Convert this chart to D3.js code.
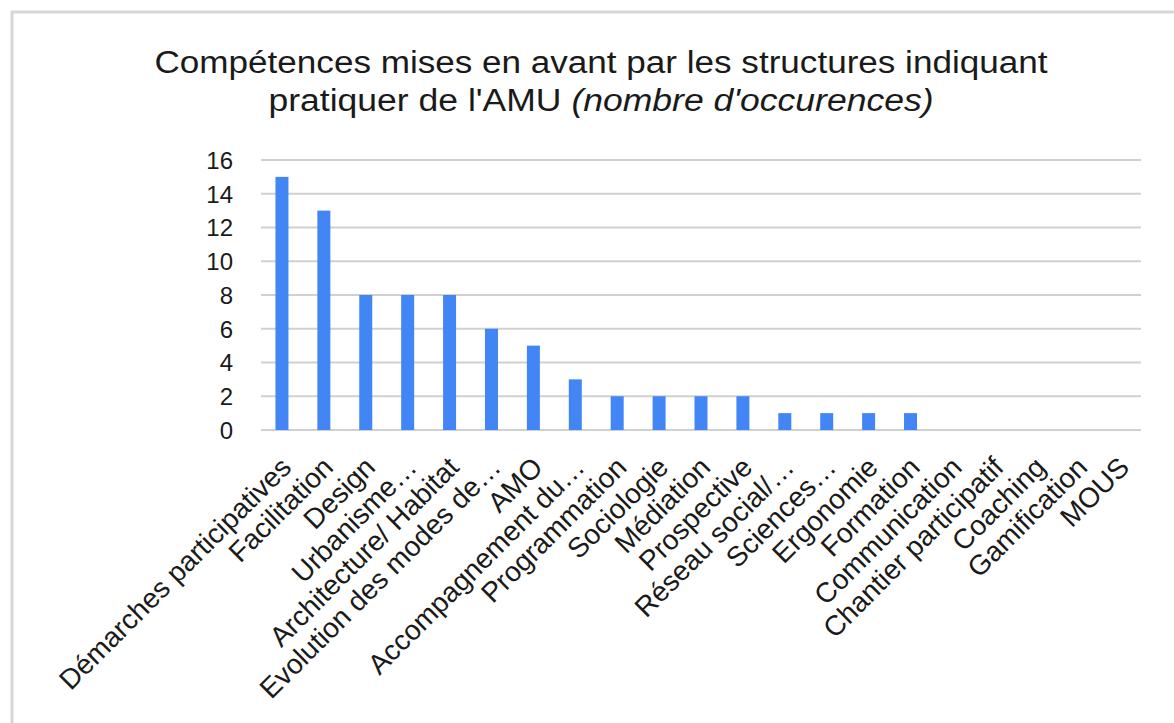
<!DOCTYPE html>
<html lang="fr">
<head>
<meta charset="UTF-8">
<title>Compétences AMU</title>
<script src="https://cdn.jsdelivr.net/npm/d3@7"></script>
<style>
  body { margin: 0; background: #fff; }
  svg text { font-family: "Liberation Sans", Arial, sans-serif; fill: #1a1a1a; }
  .grid line { stroke: #d0d0d0; stroke-width: 2; }
</style>
</head>
<body>
<svg id="chart" width="1174" height="723"></svg>
<script>
// categories and counts
var categories = ["Démarches participatives", "Facilitation", "Design", "Urbanisme…",
  "Architecture/ Habitat", "Evolution des modes de…", "AMO", "Accompagnement du…",
  "Programmation", "Sociologie", "Médiation", "Prospective", "Réseau social/…",
  "Sciences…", "Ergonomie", "Formation", "Communication", "Chantier participatif",
  "Coaching", "Gamification", "MOUS"];
var counts = [15, 13, 8, 8, 8, 6, 5, 3, 2, 2, 2, 2, 1, 1, 1, 1, 0, 0, 0, 0, 0];
var yTicks = [0, 2, 4, 6, 8, 10, 12, 14, 16];

var svg = d3.select("#chart");

// frame
svg.append("rect")
    .attr("x", 12).attr("y", 12)
    .attr("width", 1180).attr("height", 740)
    .attr("fill", "none")
    .attr("stroke", "#d6d6d6")
    .attr("stroke-width", 3);

var plotLeft = 261, plotRight = 1141, plotTop = 160, plotBottom = 430;

var x = d3.scaleBand().domain(categories).range([plotLeft, plotRight]).paddingInner(0.69).paddingOuter(0.345);
var y = d3.scaleLinear().domain([0, 16]).range([plotBottom, plotTop]);

// grid
svg.append("g").attr("class", "grid")
    .selectAll("line").data(yTicks).join("line")
    .attr("x1", plotLeft).attr("x2", plotRight)
    .attr("y1", d => y(d)).attr("y2", d => y(d));

// bars
svg.append("g").selectAll("rect").data(counts).join("rect")
    .attr("x", (d, i) => x(categories[i]))
    .attr("width", x.bandwidth())
    .attr("y", d => y(d))
    .attr("height", d => plotBottom - y(d))
    .attr("fill", "#4285f4");

// y axis labels
var yAxis = d3.axisLeft(y).tickValues(yTicks).tickSize(0).tickPadding(0);
svg.append("g")
    .attr("transform", "translate(233,0)")
    .call(yAxis)
    .call(g => g.select(".domain").remove())
    .call(g => g.selectAll("text")
        .style("font-size", "24px")
        .style("font-family", "'Liberation Sans', Arial, sans-serif")
        .attr("fill", "#1a1a1a")
        .attr("dy", "0.35em"));

// x labels, rotated
svg.append("g").selectAll("text").data(categories).join("text")
    .attr("transform", d => "translate(" + (x(d) + x.bandwidth() / 2 + 11) + "," + 469 + ") rotate(-45)")
    .attr("text-anchor", "end")
    .style("font-size", "28px")
    .text(d => d);

// title
var title = svg.append("g").attr("transform", "translate(601,0)");
title.append("text")
    .attr("y", 73)
    .attr("text-anchor", "middle")
    .attr("textLength", 893).attr("lengthAdjust", "spacingAndGlyphs")
    .style("font-size", "31px")
    .text("Compétences mises en avant par les structures indiquant");
var t2 = title.append("text")
    .attr("y", 111)
    .attr("text-anchor", "middle")
    .attr("textLength", 665).attr("lengthAdjust", "spacingAndGlyphs")
    .style("font-size", "31px");
t2.append("tspan").text("pratiquer de l'AMU ");
t2.append("tspan").style("font-style", "italic").text("(nombre d'occurences)");
</script>
</body>
</html>
